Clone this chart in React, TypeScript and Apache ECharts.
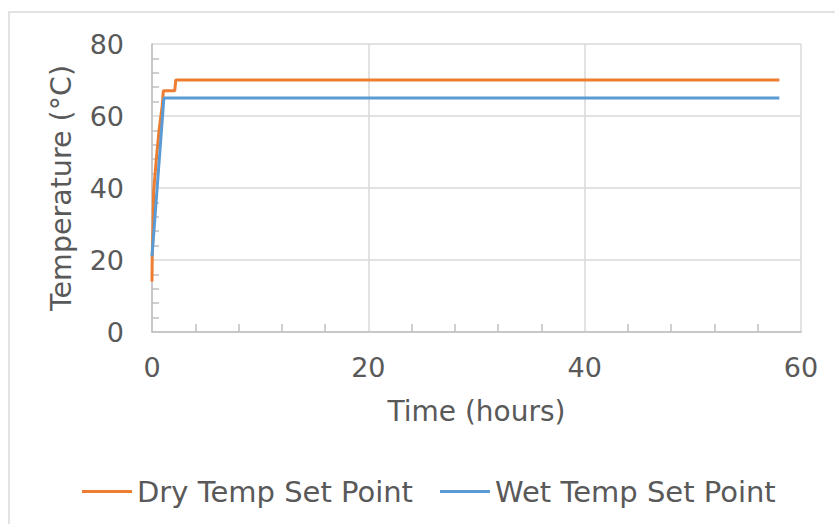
import React, { useEffect, useRef } from "react";
import * as echarts from "echarts";

const dryTime = [0, 0.02, 0.1, 0.15, 0.4, 0.65, 0.95, 1.05, 2.1, 2.2, 58];
const dryTemp = [14, 21, 30, 39, 48, 56, 63, 67, 67, 70, 70];
const wetTime = [0, 1.1, 58];
const wetTemp = [21, 65, 65];
const seriesNames = ["Dry Temp Set Point", "Wet Temp Set Point"];
const seriesColors = ["#ED7D31", "#5B9BD5"];

const FONT = "DejaVu Sans";
const TXT = "#595959";

export default function App() {
  const ref = useRef<HTMLDivElement>(null);
  useEffect(() => {
    if (!ref.current) return;
    const chart = echarts.init(ref.current, undefined, { renderer: "svg" });
    const dry = dryTime.map((t, i) => [t, dryTemp[i]]);
    const wet = wetTime.map((t, i) => [t, wetTemp[i]]);
    chart.setOption({
      animation: false,
      backgroundColor: "#ffffff",
      textStyle: { fontFamily: FONT },
      graphic: [
        {
          type: "rect",
          shape: { x: 9, y: 12, width: 900, height: 600 },
          style: { fill: "none", stroke: "#d9d9d9", lineWidth: 1.5 },
          silent: true,
        },
      ],
      grid: { left: 152, right: 34, top: 44, bottom: 192 },
      legend: {
        bottom: 18,
        left: 82,
        padding: 0,
        itemWidth: 50,
        itemHeight: 3,
        itemGap: 27,
        icon: "rect",
        textStyle: { fontFamily: FONT, fontSize: 29, color: TXT },
        data: seriesNames,
      },
      xAxis: {
        type: "value",
        min: 0,
        max: 60,
        interval: 20,
        name: "Time (hours)",
        nameLocation: "middle",
        nameGap: 65,
        nameTextStyle: { fontFamily: FONT, fontSize: 28, color: TXT },
        axisLine: { show: true, lineStyle: { color: "#bfbfbf", width: 1.5 } },
        axisTick: { show: false },
        minorTick: { show: true, splitNumber: 5, length: -8, lineStyle: { color: "#bfbfbf", width: 1.5 } },
        axisLabel: { fontFamily: FONT, fontSize: 27, color: TXT, margin: 22 },
        splitLine: { show: true, lineStyle: { color: "#d9d9d9", width: 1.5 } },
      },
      yAxis: {
        type: "value",
        min: 0,
        max: 80,
        interval: 20,
        name: "Temperature (°C)",
        nameLocation: "middle",
        nameGap: 76,
        nameTextStyle: { fontFamily: FONT, fontSize: 28.5, color: TXT },
        axisLine: { show: true, lineStyle: { color: "#bfbfbf", width: 1.5 } },
        axisTick: { show: false },
        minorTick: { show: true, splitNumber: 5, length: -7, lineStyle: { color: "#bfbfbf", width: 1.5 } },
        axisLabel: { fontFamily: FONT, fontSize: 27, color: TXT, margin: 28 },
        splitLine: { show: true, lineStyle: { color: "#d9d9d9", width: 1.5 } },
      },
      series: [
        {
          name: seriesNames[0],
          type: "line",
          data: dry,
          symbol: "none",
          color: seriesColors[0],
          lineStyle: { width: 3, color: seriesColors[0] },
        },
        {
          name: seriesNames[1],
          type: "line",
          data: wet,
          symbol: "none",
          color: seriesColors[1],
          lineStyle: { width: 3, color: seriesColors[1] },
        },
      ],
    });
    return () => chart.dispose();
  }, []);
  return (
    <div
      ref={ref}
      style={{ position: "fixed", left: 0, top: 0, width: 835, height: 524 }}
    />
  );
}
